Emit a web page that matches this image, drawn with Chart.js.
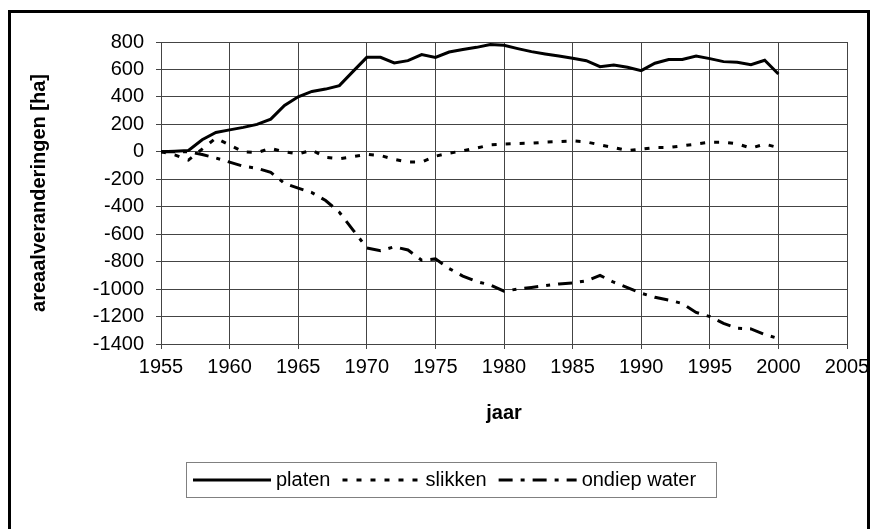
<!DOCTYPE html>
<html>
<head>
<meta charset="utf-8">
<script src="https://cdn.jsdelivr.net/npm/chart.js@4.4.0/dist/chart.umd.min.js"></script>
<style>
  body { margin: 0; background: #fff; }
</style>
</head>
<body>
<canvas id="chart" width="877" height="529"></canvas>
<script>
const years = [1955, 1956, 1957, 1958, 1959, 1960, 1961, 1962, 1963, 1964,
  1965, 1966, 1967, 1968, 1969, 1970, 1971, 1972, 1973, 1974,
  1975, 1976, 1977, 1978, 1979, 1980, 1981, 1982, 1983, 1984,
  1985, 1986, 1987, 1988, 1989, 1990, 1991, 1992, 1993, 1994,
  1995, 1996, 1997, 1998, 1999, 2000];

const platen = [0, 5, 10, 88, 141, 160, 178, 200, 238, 338,
  401, 440, 457, 482, 586, 688, 688, 647, 664, 708,
  688, 727, 745, 761, 781, 776, 752, 730, 713, 698,
  681, 664, 620, 633, 616, 591, 645, 672, 672, 698,
  679, 657, 652, 635, 667, 567];

const slikken = [0, -22, -60, 20, 100, 50, 0, -5, 25, 0,
  -15, 12, -40, -50, -35, -18, -27, -55, -75, -75,
  -32, -10, 7, 27, 50, 56, 60, 63, 70, 75,
  80, 72, 51, 31, 9, 20, 31, 31, 44, 56,
  70, 70, 58, 27, 56, 31];

const ondiepWater = [0, 0, 0, -20, -45, -75, -105, -120, -150, -230,
  -265, -297, -355, -440, -570, -700, -720, -692, -715, -790,
  -780, -850, -905, -945, -970, -1015, -1000, -988, -975, -963,
  -955, -940, -900, -950, -990, -1030, -1060, -1080, -1105, -1170,
  -1200, -1250, -1285, -1290, -1330, -1360];

const seriesNames = ['platen', 'slikken', 'ondiep water'];
const xTickValues = [1955, 1960, 1965, 1970, 1975, 1980, 1985, 1990, 1995, 2000, 2005];
const yTickValues = [-1400, -1200, -1000, -800, -600, -400, -200, 0, 200, 400, 600, 800];

const FONT = '"Liberation Sans", Arial, sans-serif';
Chart.defaults.font.family = FONT;
Chart.defaults.font.size = 20;
Chart.defaults.color = '#000';

function points(values) {
  return years.map((y, i) => ({ x: y, y: values[i] }));
}

// frame round the picture + legend box under the chart
const extras = {
  id: 'extras',
  beforeDraw(chart) {
    const ctx = chart.ctx;
    ctx.save();
    ctx.fillStyle = '#fff';
    ctx.fillRect(0, 0, chart.width, chart.height);
    ctx.restore();
  },
  afterDraw(chart) {
    const ctx = chart.ctx;
    ctx.save();
    ctx.strokeStyle = '#000';
    ctx.lineWidth = 3;
    ctx.strokeRect(9.5, 11.5, 859, 540);

    ctx.lineWidth = 1;
    ctx.strokeStyle = '#808080';
    ctx.strokeRect(186.5, 462.5, 530, 35);

    ctx.font = '20px ' + FONT;
    ctx.textBaseline = 'middle';
    const y = 480;
    let x = 193;
    chart.data.datasets.forEach(ds => {
      ctx.beginPath();
      ctx.setLineDash(ds.borderDash || []);
      ctx.lineWidth = ds.borderWidth;
      ctx.strokeStyle = ds.borderColor;
      ctx.moveTo(x, y);
      ctx.lineTo(x + 78, y);
      ctx.stroke();
      ctx.setLineDash([]);
      ctx.fillStyle = '#000';
      ctx.fillText(ds.label, x + 83, y);
      x += 83 + ctx.measureText(ds.label).width + 12;
    });
    ctx.restore();
  }
};

new Chart(document.getElementById('chart'), {
  type: 'line',
  data: {
    datasets: [
      { label: seriesNames[0], data: points(platen), borderColor: '#000', borderWidth: 3, borderDash: [] },
      { label: seriesNames[1], data: points(slikken), borderColor: '#000', borderWidth: 3, borderDash: [5, 9] },
      { label: seriesNames[2], data: points(ondiepWater), borderColor: '#000', borderWidth: 3, borderDash: [14, 8, 4, 8] }
    ]
  },
  options: {
    responsive: false,
    animation: false,
    layout: { padding: { left: 0, top: 42, right: 30, bottom: 104 } },
    elements: { point: { radius: 0 }, line: { tension: 0 } },
    plugins: { legend: { display: false }, tooltip: { enabled: false } },
    scales: {
      x: {
        type: 'linear',
        min: 1955,
        max: 2005,
        afterBuildTicks: s => { s.ticks = xTickValues.map(v => ({ value: v })); },
        afterFit: s => { s.height = 81; },
        ticks: { padding: 6, maxRotation: 0, callback: v => String(v) },
        grid: { color: '#444', tickLength: 5 },
        border: { color: '#444' },
        title: { display: true, text: 'jaar', font: { weight: 'bold', size: 20 }, padding: { top: 0, bottom: 0 } }
      },
      y: {
        min: -1400,
        max: 800,
        afterBuildTicks: s => { s.ticks = yTickValues.map(v => ({ value: v })); },
        afterFit: s => { s.width = 161; },
        ticks: { padding: 12, callback: v => String(v) },
        grid: { color: '#444', tickLength: 5 },
        border: { color: '#444' },
        title: { display: true, text: 'areaalveranderingen [ha]', font: { weight: 'bold', size: 20 }, padding: { top: 27, bottom: 0 } }
      }
    }
  },
  plugins: [extras]
});
</script>
</body>
</html>
